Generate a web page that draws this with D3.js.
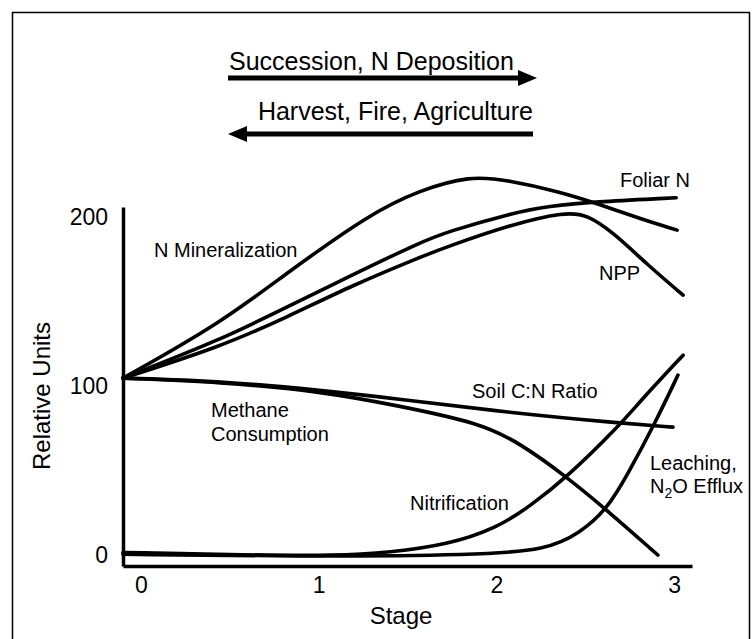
<!DOCTYPE html>
<html>
<head>
<meta charset="utf-8">
<script src="https://cdn.jsdelivr.net/npm/d3@7"></script>
<style>
  body { margin: 0; background: #fff; }
  svg text { font-family: "Liberation Sans", Arial, sans-serif; fill: #000; }
</style>
</head>
<body>
<div id="chart"></div>
<script>
// each curve: stage (x) and relative units (y)
const nMinStage   = [-0.1, 0.445, 0.822, 1.289, 1.57, 1.85, 2.06, 2.358, 2.583, 2.808, 3.016];
const nMinValue   = [104.7, 137, 167, 202, 216, 224.5, 222, 215, 207.5, 199, 192.3];

const foliarStage = [-0.1, 0.445, 0.822, 1.193, 1.57, 1.723, 2.094, 2.285, 2.583, 3.011];
const foliarValue = [104.7, 127.2, 146.7, 166, 185, 191.4, 202.5, 206.5, 209.3, 211.5];

const nppStage    = [-0.1, 0.445, 0.822, 1.193, 1.57, 1.723, 2.094, 2.386, 2.51, 2.656, 2.848, 3.05];
const nppValue    = [104.7, 123.1, 140.8, 159.8, 176.3, 182.5, 196, 203, 201.5, 191, 172, 153.8];

const soilStage   = [-0.1, 0.445, 1.008, 1.457, 2.094, 2.695, 2.993];
const soilValue   = [104.7, 103, 97.6, 92.3, 84, 78.1, 75.7];

const methStage   = [-0.1, 0.445, 1.008, 1.457, 1.907, 2.132, 2.396, 2.621, 2.908];
const methValue   = [104.7, 102.4, 97, 88.2, 78.1, 66.3, 46.2, 26.6, 0];

const nitrStage   = [-0.1, 0.6, 1.1, 1.4, 1.723, 2.004, 2.19, 2.396, 2.695, 2.808, 3.05];
const nitrValue   = [1.5, 0, -0.5, 1.5, 6, 16, 29, 46, 77, 91, 118.3];

const leachStage  = [-0.1, 0.9, 1.9, 2.28, 2.47, 2.621, 2.734, 2.892, 3.021];
const leachValue  = [0.5, -1, 0, 3, 13, 27, 47, 78, 106.5];

const xTicks = [0, 1, 2, 3];
const yTicks = [0, 100, 200];

const width = 756, height = 639;

const svg = d3.select('#chart').append('svg')
  .attr('width', width)
  .attr('height', height);

// frame around the figure (open at the bottom, runs off the page)
svg.append('path')
  .attr('d', 'M12.5,660V12.5H749.5V660')
  .attr('fill', 'none')
  .attr('stroke', '#000')
  .attr('stroke-width', 1.5);

const x = d3.scaleLinear().domain([-0.1, 3.1]).range([123, 692]);
const y = d3.scaleLinear().domain([-6.5, 206]).range([566, 207]);

const yAxis = svg.append('g')
  .attr('transform', `translate(${x(-0.1)},0)`)
  .call(d3.axisLeft(y).tickValues(yTicks).tickSize(0).tickSizeOuter(0).tickPadding(15));

const xAxis = svg.append('g')
  .attr('transform', `translate(0,${y(-6.5)})`)
  .call(d3.axisBottom(x).tickValues(xTicks).tickFormat(d3.format('d'))
    .tickSize(0).tickSizeOuter(0).tickPadding(11));

[yAxis, xAxis].forEach(g => {
  g.select('.domain').attr('stroke', '#000').attr('stroke-width', 3.5);
  g.selectAll('text').style('font-size', '23px').attr('fill', '#000')
    .style('font-family', '"Liberation Sans", Arial, sans-serif');
});

const series = [
  [nMinStage, nMinValue],
  [foliarStage, foliarValue],
  [nppStage, nppValue],
  [soilStage, soilValue],
  [methStage, methValue],
  [nitrStage, nitrValue],
  [leachStage, leachValue]
];

const line = d3.line()
  .x(d => x(d[0]))
  .y(d => y(d[1]))
  .curve(d3.curveBasis);

svg.selectAll('path.curve')
  .data(series.map(s => d3.zip(s[0], s[1])))
  .enter()
  .append('path')
  .attr('class', 'curve')
  .attr('d', line)
  .attr('fill', 'none')
  .attr('stroke', '#000')
  .attr('stroke-width', 3.6)
  .attr('stroke-linecap', 'round')
  .attr('stroke-linejoin', 'round');

// axis titles
svg.append('text')
  .attr('transform', 'translate(50,396) rotate(-90)')
  .attr('text-anchor', 'middle')
  .style('font-size', '24px')
  .text('Relative Units');

svg.append('text')
  .attr('x', 401).attr('y', 624)
  .attr('text-anchor', 'middle')
  .style('font-size', '24px')
  .text('Stage');

// curve labels
const labels = [
  { t: 'N Mineralization', x: 154, y: 257 },
  { t: 'Foliar N', x: 620, y: 187 },
  { t: 'NPP', x: 599, y: 280 },
  { t: 'Soil C:N Ratio', x: 472, y: 398 },
  { t: 'Methane', x: 211, y: 417 },
  { t: 'Consumption', x: 211, y: 441 },
  { t: 'Nitrification', x: 410, y: 510 },
  { t: 'Leaching,', x: 650, y: 470 }
];

svg.selectAll('text.lab')
  .data(labels)
  .enter()
  .append('text')
  .attr('class', 'lab')
  .attr('x', d => d.x)
  .attr('y', d => d.y)
  .style('font-size', '20px')
  .text(d => d.t);

const n2o = svg.append('text')
  .attr('x', 650).attr('y', 493)
  .style('font-size', '20px');
n2o.append('tspan').text('N');
n2o.append('tspan').attr('dy', 5).style('font-size', '14px').text('2');
n2o.append('tspan').attr('dy', -5).text('O Efflux');

// direction arrows at the top
svg.append('text')
  .attr('x', 229).attr('y', 70)
  .style('font-size', '25px')
  .text('Succession, N Deposition');

svg.append('text')
  .attr('x', 533).attr('y', 120)
  .attr('text-anchor', 'end')
  .style('font-size', '25px')
  .text('Harvest, Fire, Agriculture');

const arrows = [
  { from: 228, to: 537, y: 78 },
  { from: 533, to: 228, y: 134 }
];

arrows.forEach(a => {
  const dir = a.to > a.from ? 1 : -1;
  const base = a.to - dir * 19;
  svg.append('line')
    .attr('x1', a.from).attr('x2', base)
    .attr('y1', a.y).attr('y2', a.y)
    .attr('stroke', '#000')
    .attr('stroke-width', 5);
  svg.append('path')
    .attr('d', `M${base},${a.y - 8}L${a.to},${a.y}L${base},${a.y + 8}Z`)
    .attr('fill', '#000');
});
</script>
</body>
</html>
